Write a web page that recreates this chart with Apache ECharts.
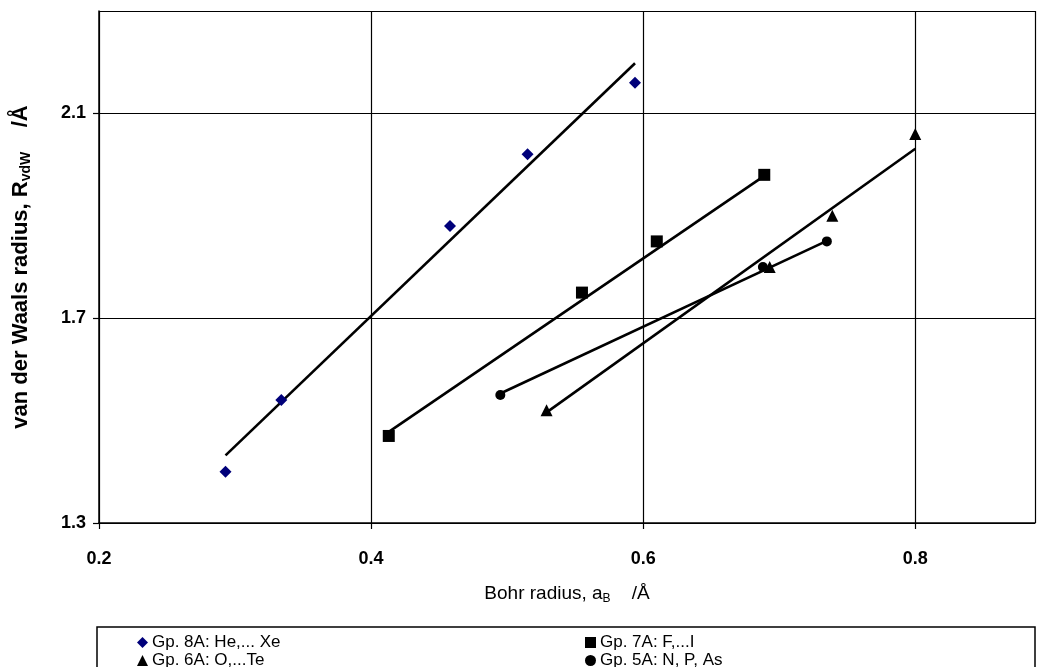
<!DOCTYPE html>
<html>
<head>
<meta charset="utf-8">
<script src="https://cdn.jsdelivr.net/npm/echarts@6/dist/echarts.min.js"></script>
<style>
  html, body { margin: 0; padding: 0; background: #fff; }
  #chart { width: 1040px; height: 667px; }
</style>
</head>
<body>
<div id="chart"></div>
<script>
// group names (legend)
const groupNames = ["Gp. 8A: He,... Xe", "Gp. 6A: O,...Te", "Gp. 7A: F,...I", "Gp. 5A: N, P, As"];

// data points [Bohr radius, vdW radius]
const gp8A = [[0.293, 1.40], [0.334, 1.54], [0.458, 1.88], [0.515, 2.02], [0.594, 2.16]];
const gp6A = [[0.529, 1.52], [0.693, 1.80], [0.739, 1.90], [0.800, 2.06]];
const gp7A = [[0.413, 1.47], [0.555, 1.75], [0.610, 1.85], [0.689, 1.98]];
const gp5A = [[0.495, 1.55], [0.688, 1.80], [0.735, 1.85]];

// trend line end points
const trend8A = [[0.293, 1.432], [0.594, 2.198]];
const trend6A = [[0.529, 1.516], [0.800, 2.031]];
const trend7A = [[0.413, 1.478], [0.689, 1.978]];
const trend5A = [[0.495, 1.553], [0.735, 1.851]];

// axes
const xMin = 0.2, xMax = 0.888, xStep = 0.2;
const yMin = 1.3, yMax = 2.3, yStep = 0.4;

const chartDom = document.getElementById("chart");
const myChart = echarts.init(chartDom, null, { renderer: "canvas" });

const font = "'Liberation Sans', Arial, sans-serif";

const trendLine = (data) => ({
  type: "line",
  data: data,
  symbol: "none",
  silent: true,
  lineStyle: { color: "#000", width: 2.6 },
  z: 2,
});

// legend blocks: two columns, each wraps to two rows
const legendBlock = (names, left) => ({
  data: names,
  orient: "horizontal",
  left: left,
  top: 634,
  width: 160,
  itemGap: 1,
  itemWidth: 11,
  itemHeight: 11,
  padding: 0,
  textStyle: { fontFamily: font, fontSize: 17, color: "#000", padding: [0, 0, 0, -1] },
});

const option = {
  animation: false,
  backgroundColor: "#fff",
  textStyle: { fontFamily: font },
  grid: { left: 99, right: 5, top: 11, bottom: 144 },
  xAxis: {
    type: "value",
    min: xMin,
    max: xMax,
    interval: xStep,
    name: "Bohr radius, a{sub|B}    /Å",
    nameLocation: "middle",
    nameGap: 60,
    nameTextStyle: {
      fontSize: 19,
      color: "#000",
      rich: { sub: { fontSize: 12, verticalAlign: "bottom", padding: [10, 0, 0, 0] } },
    },
    axisLine: { lineStyle: { color: "#000", width: 1.5 } },
    axisTick: { show: true, inside: false, length: 6, lineStyle: { color: "#000", width: 1.2 } },
    axisLabel: {
      showMaxLabel: false,
      margin: 27,
      color: "#000",
      fontWeight: "bold",
      fontSize: 18,
      formatter: (v) => v.toFixed(1),
    },
    splitLine: { show: true, lineStyle: { color: "#000", width: 1.2 } },
  },
  yAxis: {
    type: "value",
    min: yMin,
    max: yMax,
    interval: yStep,
    name: "van der Waals radius, R{sub|vdW}    /Å",
    nameLocation: "middle",
    nameRotate: 90,
    nameGap: 66,
    nameTextStyle: {
      fontSize: 22,
      fontWeight: "bold",
      color: "#000",
      rich: { sub: { fontSize: 14, fontWeight: "bold", verticalAlign: "bottom", padding: [11, 0, 0, 0] } },
    },
    axisLine: { show: true, lineStyle: { color: "#000", width: 1.5 } },
    axisTick: { show: true, inside: false, length: 6, lineStyle: { color: "#000", width: 1.2 } },
    axisLabel: {
      showMaxLabel: false,
      margin: 13,
      color: "#000",
      fontWeight: "bold",
      fontSize: 18,
      formatter: (v) => v.toFixed(1),
    },
    splitLine: { show: true, lineStyle: { color: "#000", width: 1.2 } },
  },
  legend: [
    legendBlock([groupNames[0], groupNames[1]], 137),
    legendBlock([groupNames[2], groupNames[3]], 585),
  ],
  graphic: [
    {
      type: "rect",
      shape: { x: 97, y: 627, width: 938, height: 50 },
      style: { fill: "none", stroke: "#000", lineWidth: 1.5 },
      silent: true,
    },
  ],
  series: [
    trendLine(trend8A),
    trendLine(trend6A),
    trendLine(trend7A),
    trendLine(trend5A),
    {
      name: groupNames[0],
      type: "scatter",
      data: gp8A,
      symbol: "diamond",
      symbolSize: 12,
      itemStyle: { color: "#00007a", opacity: 1 },
      z: 3,
    },
    {
      name: groupNames[1],
      type: "scatter",
      data: gp6A,
      symbol: "triangle",
      symbolSize: 12,
      itemStyle: { color: "#000", opacity: 1 },
      z: 3,
    },
    {
      name: groupNames[2],
      type: "scatter",
      data: gp7A,
      symbol: "rect",
      symbolSize: 12,
      itemStyle: { color: "#000", opacity: 1 },
      z: 3,
    },
    {
      name: groupNames[3],
      type: "scatter",
      data: gp5A,
      symbol: "circle",
      symbolSize: 10,
      itemStyle: { color: "#000", opacity: 1 },
      z: 3,
    },
  ],
};

myChart.setOption(option);
</script>
</body>
</html>
